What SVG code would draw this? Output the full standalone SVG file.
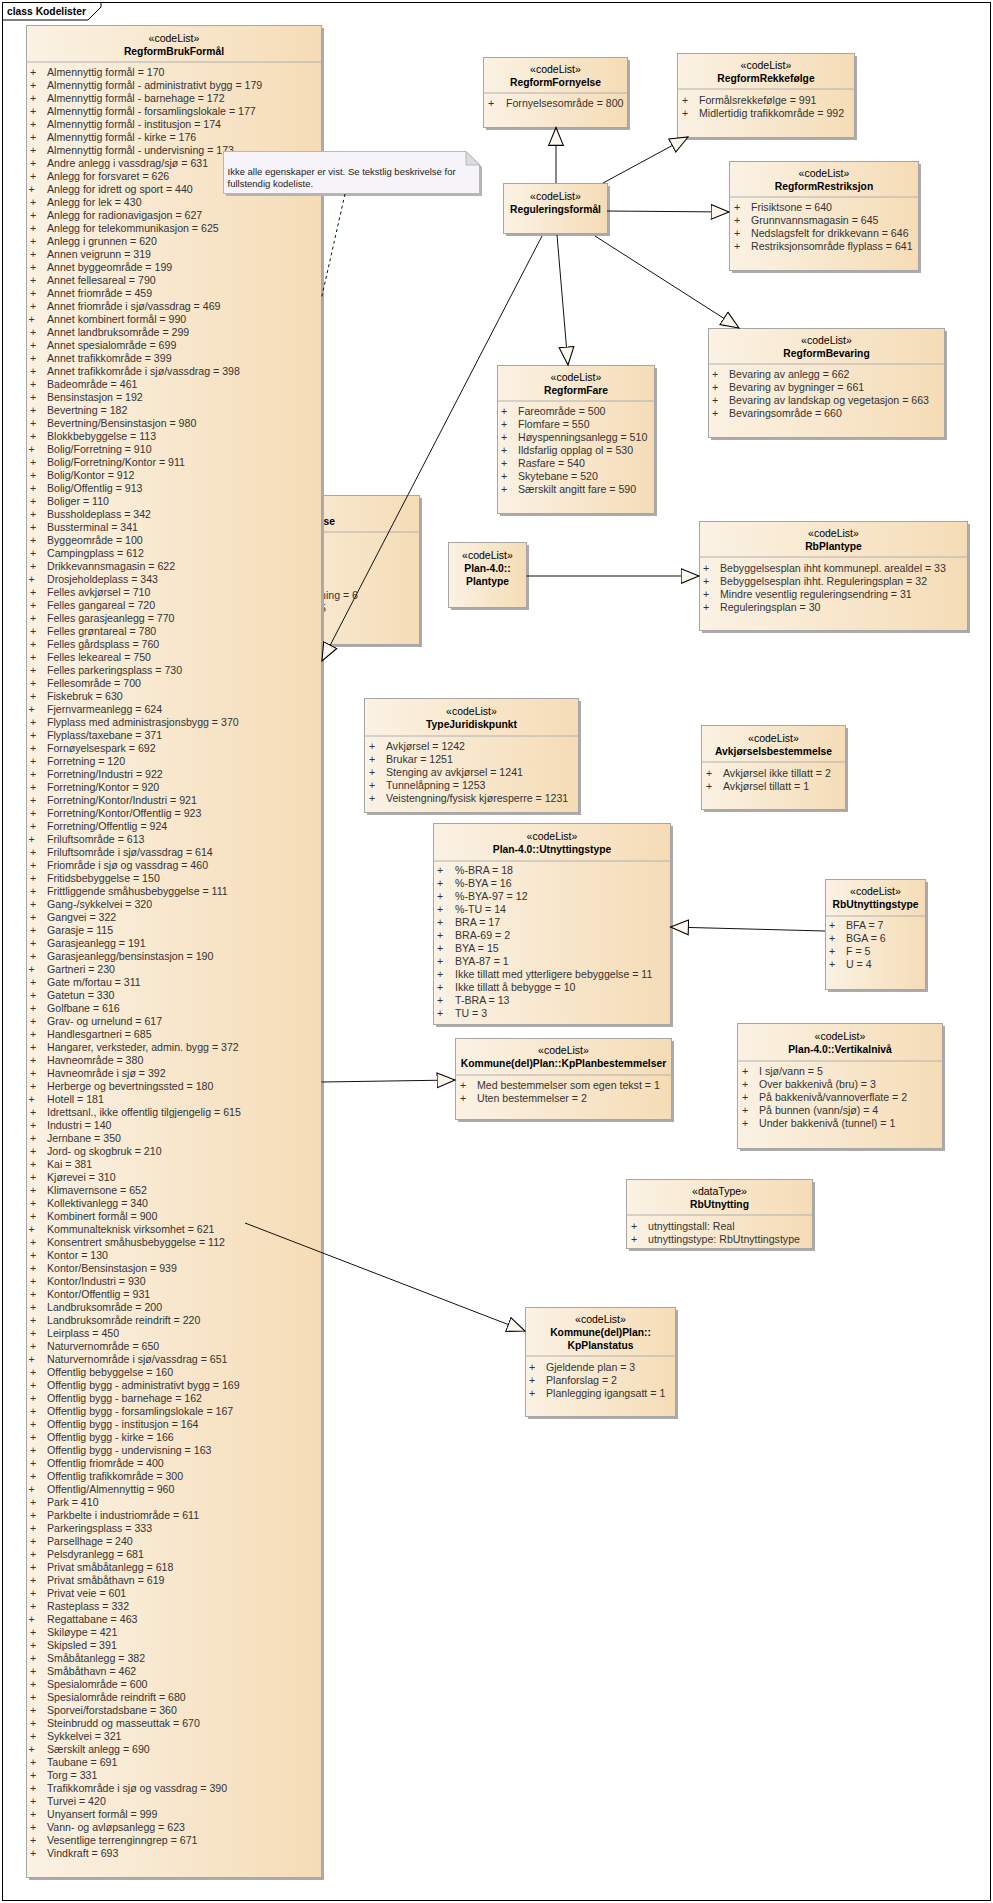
<svg xmlns="http://www.w3.org/2000/svg" width="993" height="1903" viewBox="0 0 993 1903">
<defs>
<linearGradient id="g" x1="0" y1="0" x2="1" y2="0">
<stop offset="0" stop-color="#fbf2e4"/>
<stop offset="1" stop-color="#f5dcb6"/>
</linearGradient>
<marker id="tri" markerUnits="userSpaceOnUse" markerWidth="20" markerHeight="17" refX="17.5" refY="7.5" orient="auto" viewBox="0 0 19 15">
<path d="M0.5,0.5 L17.5,7.5 L0.5,14.5 Z" fill="#fcf6ec" stroke="#000" stroke-width="1"/>
</marker>
<style>
.sh{fill:#ababab}
.box{fill:url(#g);stroke:#a6a6a6;stroke-width:1}
.sep{stroke:#b0b0b0;stroke-width:1}
.st{font-family:"Liberation Sans",Arial,sans-serif;font-size:10.5px;fill:#000;text-anchor:middle}
.nm{font-family:"Liberation Sans",Arial,sans-serif;font-size:10.3px;font-weight:bold;fill:#000;text-anchor:middle}
.it{font-family:"Liberation Sans",Arial,sans-serif;font-size:10.6px;fill:#333}
.pl{font-family:"Liberation Sans",Arial,sans-serif;font-size:10.6px;fill:#333;text-anchor:middle}
.nt{font-family:"Liberation Sans",Arial,sans-serif;font-size:9.5px;fill:#222}
.cn{fill:none;stroke:#111;stroke-width:1}
</style>
</defs>
<rect x="0" y="0" width="993" height="1903" fill="#fff"/>
<g id="frame">
<rect x="2.5" y="2.5" width="988" height="1898" fill="none" stroke="#000" stroke-width="1"/>
<polygon points="2.5,2.5 101,2.5 101,7 88,20 2.5,20" fill="#fff" stroke="#000" stroke-width="1"/>
<text x="7" y="15" font-family="Liberation Sans, Arial, sans-serif" font-size="10.3" font-weight="bold">class Kodelister</text>
</g>

<g id="hiddenClass">
<rect class="sh" x="233" y="498" width="189" height="149"/>
<rect class="box" x="230.5" y="495.5" width="189" height="149"/>
<line class="sep" x1="230.5" y1="532" x2="419.5" y2="532"/>
<text class="nm" x="335" y="525" style="text-anchor:end">lse</text>
<text class="it" x="358" y="599" text-anchor="end">ning = 6</text>
<text class="it" x="326" y="612" text-anchor="end">5</text>
</g>

<g id="RegformBrukFormaal">
<rect class="sh" x="29" y="28" width="295" height="1852"/>
<rect class="box" x="26.5" y="25.5" width="295" height="1852"/>
<line class="sep" x1="26.5" y1="62" x2="321.5" y2="62"/>
<text class="st" x="174" y="41.5">«codeList»</text>
<text class="nm" x="174" y="54.5">RegformBrukFormål</text>
<text class="pl" y="76.3"><tspan x="33" dy="0">+</tspan><tspan x="33" dy="13">+</tspan><tspan x="33" dy="13">+</tspan><tspan x="33" dy="13">+</tspan><tspan x="33" dy="13">+</tspan><tspan x="33" dy="13">+</tspan><tspan x="33" dy="13">+</tspan><tspan x="33" dy="13">+</tspan><tspan x="33" dy="13">+</tspan><tspan x="33" dy="13">+</tspan>
<tspan x="33" dy="13">+</tspan><tspan x="33" dy="13">+</tspan><tspan x="33" dy="13">+</tspan><tspan x="33" dy="13">+</tspan><tspan x="33" dy="13">+</tspan><tspan x="33" dy="13">+</tspan><tspan x="33" dy="13">+</tspan><tspan x="33" dy="13">+</tspan><tspan x="33" dy="13">+</tspan><tspan x="33" dy="13">+</tspan>
<tspan x="33" dy="13">+</tspan><tspan x="33" dy="13">+</tspan><tspan x="33" dy="13">+</tspan><tspan x="33" dy="13">+</tspan><tspan x="33" dy="13">+</tspan><tspan x="33" dy="13">+</tspan><tspan x="33" dy="13">+</tspan><tspan x="33" dy="13">+</tspan><tspan x="33" dy="13">+</tspan><tspan x="33" dy="13">+</tspan>
<tspan x="33" dy="13">+</tspan><tspan x="33" dy="13">+</tspan><tspan x="33" dy="13">+</tspan><tspan x="33" dy="13">+</tspan><tspan x="33" dy="13">+</tspan><tspan x="33" dy="13">+</tspan><tspan x="33" dy="13">+</tspan><tspan x="33" dy="13">+</tspan><tspan x="33" dy="13">+</tspan><tspan x="33" dy="13">+</tspan>
<tspan x="33" dy="13">+</tspan><tspan x="33" dy="13">+</tspan><tspan x="33" dy="13">+</tspan><tspan x="33" dy="13">+</tspan><tspan x="33" dy="13">+</tspan><tspan x="33" dy="13">+</tspan><tspan x="33" dy="13">+</tspan><tspan x="33" dy="13">+</tspan><tspan x="33" dy="13">+</tspan><tspan x="33" dy="13">+</tspan>
<tspan x="33" dy="13">+</tspan><tspan x="33" dy="13">+</tspan><tspan x="33" dy="13">+</tspan><tspan x="33" dy="13">+</tspan><tspan x="33" dy="13">+</tspan><tspan x="33" dy="13">+</tspan><tspan x="33" dy="13">+</tspan><tspan x="33" dy="13">+</tspan><tspan x="33" dy="13">+</tspan><tspan x="33" dy="13">+</tspan>
<tspan x="33" dy="13">+</tspan><tspan x="33" dy="13">+</tspan><tspan x="33" dy="13">+</tspan><tspan x="33" dy="13">+</tspan><tspan x="33" dy="13">+</tspan><tspan x="33" dy="13">+</tspan><tspan x="33" dy="13">+</tspan><tspan x="33" dy="13">+</tspan><tspan x="33" dy="13">+</tspan><tspan x="33" dy="13">+</tspan>
<tspan x="33" dy="13">+</tspan><tspan x="33" dy="13">+</tspan><tspan x="33" dy="13">+</tspan><tspan x="33" dy="13">+</tspan><tspan x="33" dy="13">+</tspan><tspan x="33" dy="13">+</tspan><tspan x="33" dy="13">+</tspan><tspan x="33" dy="13">+</tspan><tspan x="33" dy="13">+</tspan><tspan x="33" dy="13">+</tspan>
<tspan x="33" dy="13">+</tspan><tspan x="33" dy="13">+</tspan><tspan x="33" dy="13">+</tspan><tspan x="33" dy="13">+</tspan><tspan x="33" dy="13">+</tspan><tspan x="33" dy="13">+</tspan><tspan x="33" dy="13">+</tspan><tspan x="33" dy="13">+</tspan><tspan x="33" dy="13">+</tspan><tspan x="33" dy="13">+</tspan>
<tspan x="33" dy="13">+</tspan><tspan x="33" dy="13">+</tspan><tspan x="33" dy="13">+</tspan><tspan x="33" dy="13">+</tspan><tspan x="33" dy="13">+</tspan><tspan x="33" dy="13">+</tspan><tspan x="33" dy="13">+</tspan><tspan x="33" dy="13">+</tspan><tspan x="33" dy="13">+</tspan><tspan x="33" dy="13">+</tspan>
<tspan x="33" dy="13">+</tspan><tspan x="33" dy="13">+</tspan><tspan x="33" dy="13">+</tspan><tspan x="33" dy="13">+</tspan><tspan x="33" dy="13">+</tspan><tspan x="33" dy="13">+</tspan><tspan x="33" dy="13">+</tspan><tspan x="33" dy="13">+</tspan><tspan x="33" dy="13">+</tspan><tspan x="33" dy="13">+</tspan>
<tspan x="33" dy="13">+</tspan><tspan x="33" dy="13">+</tspan><tspan x="33" dy="13">+</tspan><tspan x="33" dy="13">+</tspan><tspan x="33" dy="13">+</tspan><tspan x="33" dy="13">+</tspan><tspan x="33" dy="13">+</tspan><tspan x="33" dy="13">+</tspan><tspan x="33" dy="13">+</tspan><tspan x="33" dy="13">+</tspan>
<tspan x="33" dy="13">+</tspan><tspan x="33" dy="13">+</tspan><tspan x="33" dy="13">+</tspan><tspan x="33" dy="13">+</tspan><tspan x="33" dy="13">+</tspan><tspan x="33" dy="13">+</tspan><tspan x="33" dy="13">+</tspan><tspan x="33" dy="13">+</tspan><tspan x="33" dy="13">+</tspan><tspan x="33" dy="13">+</tspan>
<tspan x="33" dy="13">+</tspan><tspan x="33" dy="13">+</tspan><tspan x="33" dy="13">+</tspan><tspan x="33" dy="13">+</tspan><tspan x="33" dy="13">+</tspan><tspan x="33" dy="13">+</tspan><tspan x="33" dy="13">+</tspan><tspan x="33" dy="13">+</tspan></text>
<text class="it" y="76.3"><tspan x="47" dy="0">Almennyttig formål = 170</tspan><tspan x="47" dy="13">Almennyttig formål - administrativt bygg = 179</tspan><tspan x="47" dy="13">Almennyttig formål - barnehage = 172</tspan><tspan x="47" dy="13">Almennyttig formål - forsamlingslokale = 177</tspan><tspan x="47" dy="13">Almennyttig formål - institusjon = 174</tspan><tspan x="47" dy="13">Almennyttig formål - kirke = 176</tspan><tspan x="47" dy="13">Almennyttig formål - undervisning = 173</tspan><tspan x="47" dy="13">Andre anlegg i vassdrag/sjø = 631</tspan><tspan x="47" dy="13">Anlegg for forsvaret = 626</tspan><tspan x="47" dy="13">Anlegg for idrett og sport = 440</tspan><tspan x="47" dy="13">Anlegg for lek = 430</tspan><tspan x="47" dy="13">Anlegg for radionavigasjon = 627</tspan><tspan x="47" dy="13">Anlegg for telekommunikasjon = 625</tspan><tspan x="47" dy="13">Anlegg i grunnen = 620</tspan><tspan x="47" dy="13">Annen veigrunn = 319</tspan><tspan x="47" dy="13">Annet byggeområde = 199</tspan><tspan x="47" dy="13">Annet fellesareal = 790</tspan><tspan x="47" dy="13">Annet friområde = 459</tspan><tspan x="47" dy="13">Annet friområde i sjø/vassdrag = 469</tspan><tspan x="47" dy="13">Annet kombinert formål = 990</tspan><tspan x="47" dy="13">Annet landbruksområde = 299</tspan><tspan x="47" dy="13">Annet spesialområde = 699</tspan><tspan x="47" dy="13">Annet trafikkområde = 399</tspan><tspan x="47" dy="13">Annet trafikkområde i sjø/vassdrag = 398</tspan><tspan x="47" dy="13">Badeområde = 461</tspan><tspan x="47" dy="13">Bensinstasjon = 192</tspan><tspan x="47" dy="13">Bevertning = 182</tspan><tspan x="47" dy="13">Bevertning/Bensinstasjon = 980</tspan><tspan x="47" dy="13">Blokkbebyggelse = 113</tspan><tspan x="47" dy="13">Bolig/Forretning = 910</tspan><tspan x="47" dy="13">Bolig/Forretning/Kontor = 911</tspan><tspan x="47" dy="13">Bolig/Kontor = 912</tspan><tspan x="47" dy="13">Bolig/Offentlig = 913</tspan><tspan x="47" dy="13">Boliger = 110</tspan><tspan x="47" dy="13">Bussholdeplass = 342</tspan><tspan x="47" dy="13">Bussterminal = 341</tspan><tspan x="47" dy="13">Byggeområde = 100</tspan><tspan x="47" dy="13">Campingplass = 612</tspan><tspan x="47" dy="13">Drikkevannsmagasin = 622</tspan><tspan x="47" dy="13">Drosjeholdeplass = 343</tspan><tspan x="47" dy="13">Felles avkjørsel = 710</tspan><tspan x="47" dy="13">Felles gangareal = 720</tspan><tspan x="47" dy="13">Felles garasjeanlegg = 770</tspan><tspan x="47" dy="13">Felles grøntareal = 780</tspan><tspan x="47" dy="13">Felles gårdsplass = 760</tspan><tspan x="47" dy="13">Felles lekeareal = 750</tspan><tspan x="47" dy="13">Felles parkeringsplass = 730</tspan><tspan x="47" dy="13">Fellesområde = 700</tspan><tspan x="47" dy="13">Fiskebruk = 630</tspan><tspan x="47" dy="13">Fjernvarmeanlegg = 624</tspan><tspan x="47" dy="13">Flyplass med administrasjonsbygg = 370</tspan><tspan x="47" dy="13">Flyplass/taxebane = 371</tspan><tspan x="47" dy="13">Fornøyelsespark = 692</tspan><tspan x="47" dy="13">Forretning = 120</tspan><tspan x="47" dy="13">Forretning/Industri = 922</tspan><tspan x="47" dy="13">Forretning/Kontor = 920</tspan><tspan x="47" dy="13">Forretning/Kontor/Industri = 921</tspan><tspan x="47" dy="13">Forretning/Kontor/Offentlig = 923</tspan><tspan x="47" dy="13">Forretning/Offentlig = 924</tspan><tspan x="47" dy="13">Friluftsområde = 613</tspan><tspan x="47" dy="13">Friluftsområde i sjø/vassdrag = 614</tspan><tspan x="47" dy="13">Friområde i sjø og vassdrag = 460</tspan><tspan x="47" dy="13">Fritidsbebyggelse = 150</tspan><tspan x="47" dy="13">Frittliggende småhusbebyggelse = 111</tspan><tspan x="47" dy="13">Gang-/sykkelvei = 320</tspan><tspan x="47" dy="13">Gangvei = 322</tspan><tspan x="47" dy="13">Garasje = 115</tspan><tspan x="47" dy="13">Garasjeanlegg = 191</tspan><tspan x="47" dy="13">Garasjeanlegg/bensinstasjon = 190</tspan><tspan x="47" dy="13">Gartneri = 230</tspan><tspan x="47" dy="13">Gate m/fortau = 311</tspan><tspan x="47" dy="13">Gatetun = 330</tspan><tspan x="47" dy="13">Golfbane = 616</tspan><tspan x="47" dy="13">Grav- og urnelund = 617</tspan><tspan x="47" dy="13">Handlesgartneri = 685</tspan><tspan x="47" dy="13">Hangarer, verksteder, admin. bygg = 372</tspan><tspan x="47" dy="13">Havneområde = 380</tspan><tspan x="47" dy="13">Havneområde i sjø = 392</tspan><tspan x="47" dy="13">Herberge og bevertningssted = 180</tspan><tspan x="47" dy="13">Hotell = 181</tspan><tspan x="47" dy="13">Idrettsanl., ikke offentlig tilgjengelig = 615</tspan><tspan x="47" dy="13">Industri = 140</tspan><tspan x="47" dy="13">Jernbane = 350</tspan><tspan x="47" dy="13">Jord- og skogbruk = 210</tspan><tspan x="47" dy="13">Kai = 381</tspan><tspan x="47" dy="13">Kjørevei = 310</tspan><tspan x="47" dy="13">Klimavernsone = 652</tspan><tspan x="47" dy="13">Kollektivanlegg = 340</tspan><tspan x="47" dy="13">Kombinert formål = 900</tspan><tspan x="47" dy="13">Kommunalteknisk virksomhet = 621</tspan><tspan x="47" dy="13">Konsentrert småhusbebyggelse = 112</tspan><tspan x="47" dy="13">Kontor = 130</tspan><tspan x="47" dy="13">Kontor/Bensinstasjon = 939</tspan><tspan x="47" dy="13">Kontor/Industri = 930</tspan><tspan x="47" dy="13">Kontor/Offentlig = 931</tspan><tspan x="47" dy="13">Landbruksområde = 200</tspan><tspan x="47" dy="13">Landbruksområde reindrift = 220</tspan><tspan x="47" dy="13">Leirplass = 450</tspan><tspan x="47" dy="13">Naturvernområde = 650</tspan><tspan x="47" dy="13">Naturvernområde i sjø/vassdrag = 651</tspan><tspan x="47" dy="13">Offentlig bebyggelse = 160</tspan><tspan x="47" dy="13">Offentlig bygg - administrativt bygg = 169</tspan><tspan x="47" dy="13">Offentlig bygg - barnehage = 162</tspan><tspan x="47" dy="13">Offentlig bygg - forsamlingslokale = 167</tspan><tspan x="47" dy="13">Offentlig bygg - institusjon = 164</tspan><tspan x="47" dy="13">Offentlig bygg - kirke = 166</tspan><tspan x="47" dy="13">Offentlig bygg - undervisning = 163</tspan><tspan x="47" dy="13">Offentlig friområde = 400</tspan><tspan x="47" dy="13">Offentlig trafikkområde = 300</tspan><tspan x="47" dy="13">Offentlig/Almennyttig = 960</tspan><tspan x="47" dy="13">Park = 410</tspan><tspan x="47" dy="13">Parkbelte i industriområde = 611</tspan><tspan x="47" dy="13">Parkeringsplass = 333</tspan><tspan x="47" dy="13">Parsellhage = 240</tspan><tspan x="47" dy="13">Pelsdyranlegg = 681</tspan><tspan x="47" dy="13">Privat småbåtanlegg = 618</tspan><tspan x="47" dy="13">Privat småbåthavn = 619</tspan><tspan x="47" dy="13">Privat veie = 601</tspan><tspan x="47" dy="13">Rasteplass = 332</tspan><tspan x="47" dy="13">Regattabane = 463</tspan><tspan x="47" dy="13">Skiløype = 421</tspan><tspan x="47" dy="13">Skipsled = 391</tspan><tspan x="47" dy="13">Småbåtanlegg = 382</tspan><tspan x="47" dy="13">Småbåthavn = 462</tspan><tspan x="47" dy="13">Spesialområde = 600</tspan><tspan x="47" dy="13">Spesialområde reindrift = 680</tspan><tspan x="47" dy="13">Sporvei/forstadsbane = 360</tspan><tspan x="47" dy="13">Steinbrudd og masseuttak = 670</tspan><tspan x="47" dy="13">Sykkelvei = 321</tspan><tspan x="47" dy="13">Særskilt anlegg = 690</tspan><tspan x="47" dy="13">Taubane = 691</tspan><tspan x="47" dy="13">Torg = 331</tspan><tspan x="47" dy="13">Trafikkområde i sjø og vassdrag = 390</tspan><tspan x="47" dy="13">Turvei = 420</tspan><tspan x="47" dy="13">Unyansert formål = 999</tspan><tspan x="47" dy="13">Vann- og avløpsanlegg = 623</tspan><tspan x="47" dy="13">Vesentlige terrenginngrep = 671</tspan><tspan x="47" dy="13">Vindkraft = 693</tspan></text>
</g>

<g id="note">
<polygon points="226,154 469,154 482,167 482,196 226,196" fill="#b4b4b4"/>
<polygon points="223.5,151.5 466,151.5 479.5,165 479.5,193.5 223.5,193.5" fill="#f6f4f8" stroke="#b8b8b8" stroke-width="1"/>
<polygon points="466,151.5 466,165 479.5,165" fill="#dcdcdc" stroke="#b8b8b8" stroke-width="1"/>
<text class="nt" x="227.5" y="174.5">Ikke alle egenskaper er vist. Se tekstlig beskrivelse for</text>
<text class="nt" x="227.5" y="186.5">fullstendig kodeliste.</text>
</g>

<g id="RegformFornyelse">
<rect class="sh" x="486" y="60" width="144" height="70"/>
<rect class="box" x="483.5" y="57.5" width="144" height="70"/>
<line class="sep" x1="483.5" y1="93" x2="627.5" y2="93"/>
<text class="st" x="555.5" y="73">«codeList»</text>
<text class="nm" x="555.5" y="86">RegformFornyelse</text>
<text class="pl" x="491" y="107">+</text><text class="it" x="506" y="107">Fornyelsesområde = 800</text>
</g>

<g id="RegformRekkefolge">
<rect class="sh" x="680" y="56" width="177" height="84"/>
<rect class="box" x="677.5" y="53.5" width="177" height="84"/>
<line class="sep" x1="677.5" y1="89" x2="854.5" y2="89"/>
<text class="st" x="766" y="69">«codeList»</text>
<text class="nm" x="766" y="82">RegformRekkefølge</text>
<text class="pl" x="685" y="104">+</text><text class="it" x="699" y="104">Formålsrekkefølge = 991</text>
<text class="pl" x="685" y="117">+</text><text class="it" x="699" y="117">Midlertidig trafikkområde = 992</text>
</g>

<g id="Reguleringsformaal">
<rect class="sh" x="506" y="186" width="104" height="50"/>
<rect class="box" x="503.5" y="183.5" width="104" height="50"/>
<text class="st" x="555.5" y="200">«codeList»</text>
<text class="nm" x="555.5" y="213">Reguleringsformål</text>
</g>

<g id="RegformRestriksjon">
<rect class="sh" x="732" y="164" width="189" height="109"/>
<rect class="box" x="729.5" y="161.5" width="189" height="109"/>
<line class="sep" x1="729.5" y1="197" x2="918.5" y2="197"/>
<text class="st" x="824" y="177">«codeList»</text>
<text class="nm" x="824" y="190">RegformRestriksjon</text>
<text class="pl" x="737" y="211">+</text><text class="it" x="751" y="211">Frisiktsone = 640</text>
<text class="pl" x="737" y="224">+</text><text class="it" x="751" y="224">Grunnvannsmagasin = 645</text>
<text class="pl" x="737" y="237">+</text><text class="it" x="751" y="237">Nedslagsfelt for drikkevann = 646</text>
<text class="pl" x="737" y="250">+</text><text class="it" x="751" y="250">Restriksjonsområde flyplass = 641</text>
</g>

<g id="RegformFare">
<rect class="sh" x="500" y="368" width="157" height="148"/>
<rect class="box" x="497.5" y="365.5" width="157" height="148"/>
<line class="sep" x1="497.5" y1="401" x2="654.5" y2="401"/>
<text class="st" x="576" y="381">«codeList»</text>
<text class="nm" x="576" y="394">RegformFare</text>
<text class="pl" y="415"><tspan x="504" dy="0">+</tspan><tspan x="504" dy="13">+</tspan><tspan x="504" dy="13">+</tspan><tspan x="504" dy="13">+</tspan><tspan x="504" dy="13">+</tspan><tspan x="504" dy="13">+</tspan><tspan x="504" dy="13">+</tspan></text>
<text class="it" y="415"><tspan x="518" dy="0">Fareområde = 500</tspan><tspan x="518" dy="13">Flomfare = 550</tspan><tspan x="518" dy="13">Høyspenningsanlegg = 510</tspan><tspan x="518" dy="13">Ildsfarlig opplag ol = 530</tspan><tspan x="518" dy="13">Rasfare = 540</tspan><tspan x="518" dy="13">Skytebane = 520</tspan><tspan x="518" dy="13">Særskilt angitt fare = 590</tspan></text>
</g>

<g id="RegformBevaring">
<rect class="sh" x="711" y="331" width="236" height="109"/>
<rect class="box" x="708.5" y="328.5" width="236" height="109"/>
<line class="sep" x1="708.5" y1="364" x2="944.5" y2="364"/>
<text class="st" x="826.5" y="344">«codeList»</text>
<text class="nm" x="826.5" y="357">RegformBevaring</text>
<text class="pl" x="715" y="378">+</text><text class="it" x="729" y="378">Bevaring av anlegg = 662</text>
<text class="pl" x="715" y="391">+</text><text class="it" x="729" y="391">Bevaring av bygninger = 661</text>
<text class="pl" x="715" y="404">+</text><text class="it" x="729" y="404">Bevaring av landskap og vegetasjon = 663</text>
<text class="pl" x="715" y="417">+</text><text class="it" x="729" y="417">Bevaringsområde = 660</text>
</g>

<g id="Plantype">
<rect class="sh" x="451" y="545" width="78" height="65"/>
<rect class="box" x="448.5" y="542.5" width="78" height="65"/>
<text class="st" x="487.5" y="559">«codeList»</text>
<text class="nm" x="487.5" y="572">Plan-4.0::</text>
<text class="nm" x="487.5" y="585">Plantype</text>
</g>

<g id="RbPlantype">
<rect class="sh" x="702" y="524" width="268" height="109"/>
<rect class="box" x="699.5" y="521.5" width="268" height="109"/>
<line class="sep" x1="699.5" y1="557" x2="967.5" y2="557"/>
<text class="st" x="833.5" y="537">«codeList»</text>
<text class="nm" x="833.5" y="550">RbPlantype</text>
<text class="pl" x="706" y="572">+</text><text class="it" x="720" y="572">Bebyggelsesplan ihht kommunepl. arealdel = 33</text>
<text class="pl" x="706" y="585">+</text><text class="it" x="720" y="585">Bebyggelsesplan ihht. Reguleringsplan = 32</text>
<text class="pl" x="706" y="598">+</text><text class="it" x="720" y="598">Mindre vesentlig reguleringsendring = 31</text>
<text class="pl" x="706" y="611">+</text><text class="it" x="720" y="611">Reguleringsplan = 30</text>
</g>

<g id="TypeJuridiskpunkt">
<rect class="sh" x="367" y="701" width="214" height="114"/>
<rect class="box" x="364.5" y="698.5" width="214" height="114"/>
<line class="sep" x1="364.5" y1="736" x2="578.5" y2="736"/>
<text class="st" x="471.5" y="715">«codeList»</text>
<text class="nm" x="471.5" y="728">TypeJuridiskpunkt</text>
<text class="pl" x="372" y="749.5">+</text><text class="it" x="386" y="749.5">Avkjørsel = 1242</text>
<text class="pl" x="372" y="762.5">+</text><text class="it" x="386" y="762.5">Brukar = 1251</text>
<text class="pl" x="372" y="775.5">+</text><text class="it" x="386" y="775.5">Stenging av avkjørsel = 1241</text>
<text class="pl" x="372" y="788.5">+</text><text class="it" x="386" y="788.5">Tunnelåpning = 1253</text>
<text class="pl" x="372" y="801.5">+</text><text class="it" x="386" y="801.5">Veistengning/fysisk kjøresperre = 1231</text>
</g>

<g id="Avkjorselsbestemmelse">
<rect class="sh" x="704" y="728" width="144" height="84"/>
<rect class="box" x="701.5" y="725.5" width="144" height="84"/>
<line class="sep" x1="701.5" y1="762" x2="845.5" y2="762"/>
<text class="st" x="773.5" y="742">«codeList»</text>
<text class="nm" x="773.5" y="755">Avkjørselsbestemmelse</text>
<text class="pl" x="709" y="777">+</text><text class="it" x="723" y="777">Avkjørsel ikke tillatt = 2</text>
<text class="pl" x="709" y="790">+</text><text class="it" x="723" y="790">Avkjørsel tillatt = 1</text>
</g>

<g id="Utnyttingstype">
<rect class="sh" x="436" y="826" width="237" height="201"/>
<rect class="box" x="433.5" y="823.5" width="237" height="201"/>
<line class="sep" x1="433.5" y1="861" x2="670.5" y2="861"/>
<text class="st" x="552" y="840">«codeList»</text>
<text class="nm" x="552" y="853">Plan-4.0::Utnyttingstype</text>
<text class="pl" y="874"><tspan x="440" dy="0">+</tspan><tspan x="440" dy="13">+</tspan><tspan x="440" dy="13">+</tspan><tspan x="440" dy="13">+</tspan><tspan x="440" dy="13">+</tspan><tspan x="440" dy="13">+</tspan><tspan x="440" dy="13">+</tspan><tspan x="440" dy="13">+</tspan><tspan x="440" dy="13">+</tspan><tspan x="440" dy="13">+</tspan><tspan x="440" dy="13">+</tspan><tspan x="440" dy="13">+</tspan></text>
<text class="it" y="874"><tspan x="455" dy="0">%-BRA = 18</tspan><tspan x="455" dy="13">%-BYA = 16</tspan><tspan x="455" dy="13">%-BYA-97 = 12</tspan><tspan x="455" dy="13">%-TU = 14</tspan><tspan x="455" dy="13">BRA = 17</tspan><tspan x="455" dy="13">BRA-69 = 2</tspan><tspan x="455" dy="13">BYA = 15</tspan><tspan x="455" dy="13">BYA-87 = 1</tspan><tspan x="455" dy="13">Ikke tillatt med ytterligere bebyggelse = 11</tspan><tspan x="455" dy="13">Ikke tillatt å bebygge = 10</tspan><tspan x="455" dy="13">T-BRA = 13</tspan><tspan x="455" dy="13">TU = 3</tspan></text>
</g>

<g id="RbUtnyttingstype">
<rect class="sh" x="828" y="882" width="100" height="110"/>
<rect class="box" x="825.5" y="879.5" width="100" height="110"/>
<line class="sep" x1="825.5" y1="916" x2="925.5" y2="916"/>
<text class="st" x="875.5" y="895">«codeList»</text>
<text class="nm" x="875.5" y="908">RbUtnyttingstype</text>
<text class="pl" x="832" y="929">+</text><text class="it" x="846" y="929">BFA = 7</text>
<text class="pl" x="832" y="942">+</text><text class="it" x="846" y="942">BGA = 6</text>
<text class="pl" x="832" y="955">+</text><text class="it" x="846" y="955">F = 5</text>
<text class="pl" x="832" y="968">+</text><text class="it" x="846" y="968">U = 4</text>
</g>

<g id="KpPlanbestemmelser">
<rect class="sh" x="458" y="1041" width="216" height="81"/>
<rect class="box" x="455.5" y="1038.5" width="216" height="81"/>
<line class="sep" x1="455.5" y1="1075" x2="671.5" y2="1075"/>
<text class="st" x="563.5" y="1054">«codeList»</text>
<text class="nm" x="563.5" y="1067">Kommune(del)Plan::KpPlanbestemmelser</text>
<text class="pl" x="463" y="1089">+</text><text class="it" x="477" y="1089">Med bestemmelser som egen tekst = 1</text>
<text class="pl" x="463" y="1102">+</text><text class="it" x="477" y="1102">Uten bestemmelser = 2</text>
</g>

<g id="Vertikalniva">
<rect class="sh" x="740" y="1026" width="205" height="125"/>
<rect class="box" x="737.5" y="1023.5" width="205" height="125"/>
<line class="sep" x1="737.5" y1="1061" x2="942.5" y2="1061"/>
<text class="st" x="840" y="1040">«codeList»</text>
<text class="nm" x="840" y="1053">Plan-4.0::Vertikalnivå</text>
<text class="pl" x="745" y="1075">+</text><text class="it" x="759" y="1075">I sjø/vann = 5</text>
<text class="pl" x="745" y="1088">+</text><text class="it" x="759" y="1088">Over bakkenivå (bru) = 3</text>
<text class="pl" x="745" y="1101">+</text><text class="it" x="759" y="1101">På bakkenivå/vannoverflate = 2</text>
<text class="pl" x="745" y="1114">+</text><text class="it" x="759" y="1114">På bunnen (vann/sjø) = 4</text>
<text class="pl" x="745" y="1127">+</text><text class="it" x="759" y="1127">Under bakkenivå (tunnel) = 1</text>
</g>

<g id="RbUtnytting">
<rect class="sh" x="629" y="1182" width="186" height="69"/>
<rect class="box" x="626.5" y="1179.5" width="186" height="69"/>
<line class="sep" x1="626.5" y1="1215" x2="812.5" y2="1215"/>
<text class="st" x="719.5" y="1195">«dataType»</text>
<text class="nm" x="719.5" y="1208">RbUtnytting</text>
<text class="pl" x="634" y="1230">+</text><text class="it" x="648" y="1230">utnyttingstall: Real</text>
<text class="pl" x="634" y="1243">+</text><text class="it" x="648" y="1243">utnyttingstype: RbUtnyttingstype</text>
</g>

<g id="KpPlanstatus">
<rect class="sh" x="528" y="1310" width="150" height="109"/>
<rect class="box" x="525.5" y="1307.5" width="150" height="109"/>
<line class="sep" x1="525.5" y1="1356" x2="675.5" y2="1356"/>
<text class="st" x="600.5" y="1323">«codeList»</text>
<text class="nm" x="600.5" y="1336">Kommune(del)Plan::</text>
<text class="nm" x="600.5" y="1349">KpPlanstatus</text>
<text class="pl" x="532" y="1371">+</text><text class="it" x="546" y="1371">Gjeldende plan = 3</text>
<text class="pl" x="532" y="1384">+</text><text class="it" x="546" y="1384">Planforslag = 2</text>
<text class="pl" x="532" y="1397">+</text><text class="it" x="546" y="1397">Planlegging igangsatt = 1</text>
</g>

<g id="connectors">
<path class="cn" d="M556,183 L556,127.5" marker-end="url(#tri)"/>
<path class="cn" d="M603,183 L688,137" marker-end="url(#tri)"/>
<path class="cn" d="M607,211 L729,212" marker-end="url(#tri)"/>
<path class="cn" d="M557,235 L568,365" marker-end="url(#tri)"/>
<path class="cn" d="M595,236 L739,328" marker-end="url(#tri)"/>
<path class="cn" d="M542,236 L322,661" marker-end="url(#tri)"/>
<path class="cn" d="M526.5,576 L699,576" marker-end="url(#tri)"/>
<path class="cn" d="M825,931 L670.5,927" marker-end="url(#tri)"/>
<path class="cn" d="M321.5,1082 L455,1080" marker-end="url(#tri)"/>
<path class="cn" d="M245,1223 L525,1331" marker-end="url(#tri)"/>
<path class="cn" d="M345,194 L321.5,298" stroke-dasharray="3,3"/>
</g>
</svg>
